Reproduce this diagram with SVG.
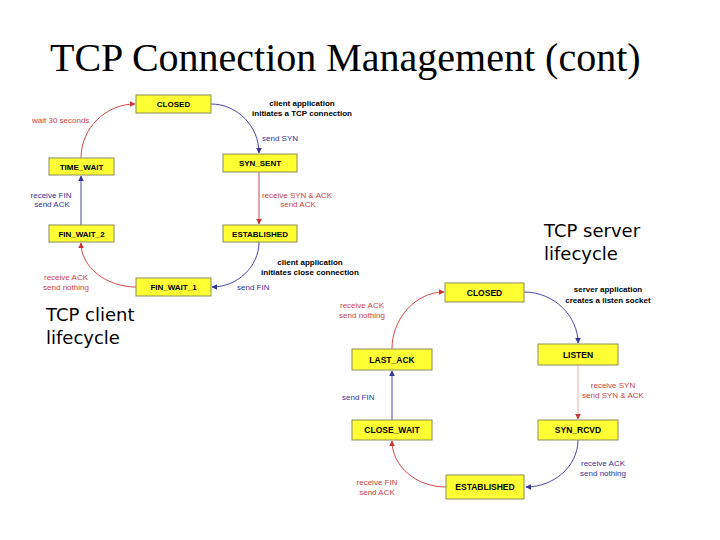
<svg xmlns="http://www.w3.org/2000/svg" width="720" height="540" viewBox="0 0 720 540">
<defs>
<marker id="ab" viewBox="0 0 10 10" refX="9" refY="5" markerWidth="6" markerHeight="6" orient="auto" markerUnits="userSpaceOnUse"><path d="M0,0 L10,5 L0,10 Z" fill="#333399"/></marker>
<marker id="ar" viewBox="0 0 10 10" refX="9" refY="5" markerWidth="6" markerHeight="6" orient="auto" markerUnits="userSpaceOnUse"><path d="M0,0 L10,5 L0,10 Z" fill="#cc3333"/></marker>
</defs>
<style>
.box{fill:#ffff33;stroke:#8c8c5a;stroke-width:1}
.bt{font-family:"Liberation Sans",Arial,sans-serif;font-weight:bold;font-size:8px;text-anchor:middle;fill:#000}
.bt2{font-family:"Liberation Sans",Arial,sans-serif;font-weight:bold;font-size:8.5px;text-anchor:middle;fill:#000}
.lb{font-family:"Liberation Sans",Arial,sans-serif;font-size:8px;fill:#333399}
.lr{font-family:"Liberation Sans",Arial,sans-serif;font-size:8px;fill:#cc4444}
.lk{font-family:"Liberation Sans",Arial,sans-serif;font-size:8px;font-weight:bold;fill:#000;text-anchor:middle}
.cb{fill:none;stroke:#333399;stroke-width:0.9;marker-end:url(#ab)}
.cr{fill:none;stroke:#cc3333;stroke-width:0.9;marker-end:url(#ar)}
.cap{font-family:"DejaVu Sans","Comic Sans MS",sans-serif;font-size:18px;fill:#000}
</style>
<rect width="720" height="540" fill="#fff"/>
<text x="50" y="71" font-family="Liberation Serif,'Times New Roman',serif" font-size="40" fill="#000">TCP Connection Management (cont)</text>

<g id="connectors">
<path class="cb" d="M211,104 C237,104 259,126 259,153"/>
<path class="cr" d="M259,172 L259,224"/>
<path class="cb" d="M259,242 C259,267 237,287 212,287"/>
<path class="cr" d="M136,287 C106,287 81,267 81,243"/>
<path class="cb" d="M81,225 L81,176"/>
<path class="cr" d="M81,158 C81,128 106,104 135,104"/>

<path class="cb" d="M524,292 C554,292 578,316 578,343"/>
<path class="cr" style="stroke:#e8a0a0" d="M578,365 L578,419"/>
<path class="cb" d="M578,440 C578,466 554,487 526,487"/>
<path class="cr" d="M446,487 C416,487 392,466 392,441"/>
<path class="cb" d="M392,420 L392,371"/>
<path class="cr" d="M392,349 C392,318 416,292 444,292"/>
</g>

<g id="labels">
<text class="lr" x="32" y="123">wait 30 seconds</text>
<text class="lk" x="302" y="106">client application</text>
<text class="lk" x="302" y="116">initiates a TCP connection</text>
<text class="lb" x="262" y="141">send SYN</text>
<text class="lr" x="297" y="198" text-anchor="middle">receive SYN &amp; ACK</text>
<text class="lr" x="298" y="207" text-anchor="middle">send ACK</text>
<text class="lb" x="51" y="198" text-anchor="middle">receive FIN</text>
<text class="lb" x="52" y="207" text-anchor="middle">send ACK</text>
<text class="lk" x="310" y="265">client application</text>
<text class="lk" x="310" y="275">initiates close connection</text>
<text class="lb" x="237" y="290">send FIN</text>
<text class="lr" x="66" y="280" text-anchor="middle">receive ACK</text>
<text class="lr" x="66" y="290" text-anchor="middle">send nothing</text>

<text class="lr" x="362" y="308" text-anchor="middle">receive ACK</text>
<text class="lr" x="362" y="318" text-anchor="middle">send nothing</text>
<text class="lk" x="608" y="292">server application</text>
<text class="lk" x="608" y="303">creates a listen socket</text>
<text class="lr" x="613" y="388" text-anchor="middle">receive SYN</text>
<text class="lr" x="613" y="398" text-anchor="middle">send SYN &amp; ACK</text>
<text class="lb" x="342" y="400">send FIN</text>
<text class="lb" x="603" y="466" text-anchor="middle">receive ACK</text>
<text class="lb" x="603" y="476" text-anchor="middle">send nothing</text>
<text class="lr" x="377" y="485" text-anchor="middle">receive FIN</text>
<text class="lr" x="377" y="495" text-anchor="middle">send ACK</text>

<text class="cap" x="544" y="237">TCP server</text>
<text class="cap" x="544" y="260">lifecycle</text>
<text class="cap" x="46" y="321">TCP client</text>
<text class="cap" x="46" y="344">lifecycle</text>
</g>

<g id="c_closed"><rect class="box" x="136" y="95" width="75" height="18"/><text class="bt" x="173.5" y="107">CLOSED</text></g>
<g id="c_time_wait"><rect class="box" x="49" y="158" width="65" height="17"/><text class="bt" x="81.5" y="169.5">TIME_WAIT</text></g>
<g id="c_syn_sent"><rect class="box" x="223" y="154" width="74" height="18"/><text class="bt" x="260" y="166">SYN_SENT</text></g>
<g id="c_fin_wait_2"><rect class="box" x="49" y="225" width="65" height="17"/><text class="bt" x="81.5" y="236.5">FIN_WAIT_2</text></g>
<g id="c_established"><rect class="box" x="223" y="225" width="74" height="17"/><text class="bt" x="260" y="236.5">ESTABLISHED</text></g>
<g id="c_fin_wait_1"><rect class="box" x="136" y="278" width="75" height="18"/><text class="bt" x="173.5" y="290">FIN_WAIT_1</text></g>

<g id="s_closed"><rect class="box" x="445" y="283" width="79" height="19"/><text class="bt2" x="484.5" y="295.5">CLOSED</text></g>
<g id="s_listen"><rect class="box" x="538" y="344" width="80" height="21"/><text class="bt2" x="578" y="357.5">LISTEN</text></g>
<g id="s_last_ack"><rect class="box" x="352" y="349" width="80" height="21"/><text class="bt2" x="392" y="362.5">LAST_ACK</text></g>
<g id="s_close_wait"><rect class="box" x="352" y="420" width="80" height="20"/><text class="bt2" x="392" y="433">CLOSE_WAIT</text></g>
<g id="s_syn_rcvd"><rect class="box" x="538" y="420" width="80" height="20"/><text class="bt2" x="578" y="433">SYN_RCVD</text></g>
<g id="s_established"><rect class="box" x="446" y="475" width="78" height="24"/><text class="bt2" x="485" y="490">ESTABLISHED</text></g>
</svg>
